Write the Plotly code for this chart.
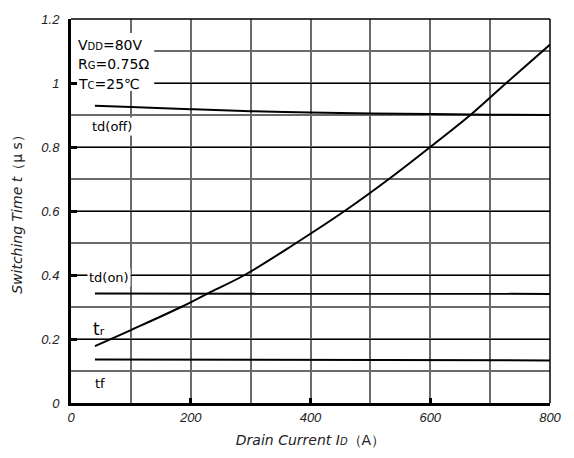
import plotly.graph_objects as go

# Data
tr_x = [40, 100, 184, 228, 290, 376, 457, 531, 600, 667, 727, 800]
tr_y = [0.178, 0.228, 0.300, 0.342, 0.400, 0.500, 0.600, 0.700, 0.800, 0.900, 1.000, 1.120]

tdoff_x = [40, 100, 200, 300, 400, 500, 600, 700, 800]
tdoff_y = [0.929, 0.925, 0.918, 0.912, 0.908, 0.905, 0.903, 0.901, 0.900]

tdon_x = [40, 200, 400, 600, 800]
tdon_y = [0.342, 0.342, 0.341, 0.341, 0.341]

tf_x = [40, 200, 400, 600, 800]
tf_y = [0.136, 0.135, 0.134, 0.133, 0.133]

x_ticks = [0, 200, 400, 600, 800]
y_ticks = [0, 0.2, 0.4, 0.6, 0.8, 1.0, 1.2]
y_tick_text = ["0", "0.2", "0.4", "0.6", "0.8", "1", "1.2"]

TICKFONT = dict(family="Liberation Sans", size=13, color="#222", style="italic")
ANNFAM = "DejaVu Sans"
GRID = "#6a6a6a"

fig = go.Figure()
line = dict(color="black", width=2)
for xs, ys, shape in [(tdoff_x, tdoff_y, "spline"), (tdon_x, tdon_y, "linear"),
                      (tf_x, tf_y, "linear"), (tr_x, tr_y, "spline")]:
    fig.add_trace(go.Scatter(x=xs, y=ys, mode="lines", line=dict(line, shape=shape),
                             showlegend=False, hoverinfo="skip"))

# white block behind condition text (hides the grid)
fig.add_shape(type="rect", xref="x", yref="y", x0=0, x1=139, y0=0.975, y1=1.156,
              fillcolor="white", line=dict(width=0), layer="between")
# thin frame on top and right
fig.add_shape(type="line", xref="paper", yref="paper", x0=0, x1=1, y0=1, y1=1,
              line=dict(color="black", width=1.5))
fig.add_shape(type="line", xref="paper", yref="paper", x0=1, x1=1, y0=0, y1=1,
              line=dict(color="black", width=1.5))

ann_font = dict(family=ANNFAM, size=14, color="black")
sm = '<span style="font-size:10px">{}</span>'
cond = [("V" + sm.format("DD") + "=80V", 1.12),
        ("R" + sm.format("G") + "=0.75Ω", 1.058),
        ("T" + sm.format("C") + "=25℃", 0.997)]
for txt, yy in cond:
    fig.add_annotation(x=8, y=yy, xref="x", yref="y", text=txt, showarrow=False,
                       xanchor="left", yanchor="middle", font=ann_font)

labels = [("td(off)", 32, 0.864, 13, True),
          ("td(on)", 27, 0.393, 13, True),
          ("t" + '<span style="font-size:11px">r</span>', 33, 0.232, 17, False),
          ("tf", 37, 0.06, 13, False)]
for txt, xx, yy, fs, bg in labels:
    f = dict(ann_font, size=fs)
    fig.add_annotation(x=xx, y=yy, xref="x", yref="y", text=txt, showarrow=False,
                       xanchor="left", yanchor="middle", font=f,
                       bgcolor="white" if bg else None, borderpad=1)

TITLEFONT = dict(family="DejaVu Sans", size=14, color="#222")
fig.update_xaxes(
    range=[0, 800], tickvals=x_ticks, ticktext=[str(v) for v in x_ticks],
    tickfont=dict(TICKFONT), ticks="inside", ticklen=5, tickwidth=3, tickcolor="black",
    showline=True, linecolor="black", linewidth=3,
    showgrid=True, gridcolor=GRID, gridwidth=2,
    minor=dict(dtick=100, tick0=0, showgrid=True, gridcolor=GRID, gridwidth=2),
    zeroline=False,
    title=dict(text="<i>Drain Current I<span style=\"font-size:10px\">D</span></i>（A）",
               font=TITLEFONT, standoff=12),
)
fig.update_yaxes(
    range=[0, 1.2], tickvals=y_ticks, ticktext=y_tick_text,
    tickfont=dict(TICKFONT), ticks="inside", ticklen=6, tickwidth=3, tickcolor="black",
    ticklabelstandoff=6,
    showline=True, linecolor="black", linewidth=3,
    showgrid=True, gridcolor="black", gridwidth=1,
    minor=dict(dtick=0.1, tick0=0, showgrid=True, gridcolor=GRID, gridwidth=2),
    zeroline=False,
    title=dict(text="<i>Switching Time t</i>（μ s）", font=TITLEFONT, standoff=16),
)

fig.update_layout(
    width=574, height=458,
    margin=dict(l=71, r=15, t=13, b=54),
    paper_bgcolor="white", plot_bgcolor="white",
)

fig.write_html("out.html")
